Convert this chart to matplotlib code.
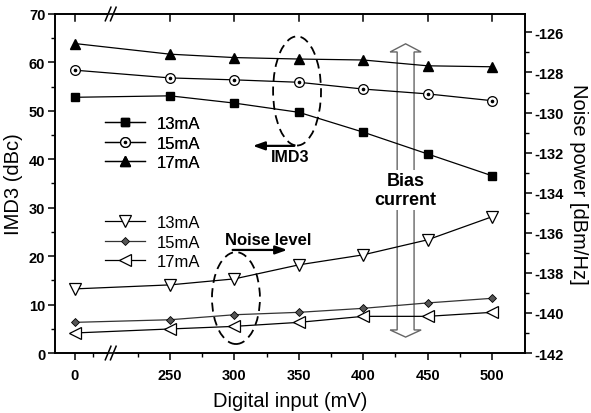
import matplotlib
matplotlib.use("Agg")
import matplotlib.pyplot as plt
import numpy as np
from matplotlib.patches import Ellipse, Polygon
from matplotlib.ticker import FixedLocator, MultipleLocator

plt.rcParams['font.family'] = ['Liberation Sans', 'DejaVu Sans']
plt.rcParams['axes.unicode_minus'] = False

# Données
digital_input = [0, 250, 300, 350, 400, 450, 500]
tick_labels = ['0', '250', '300', '350', '400', '450', '500']

imd3_13 = [52.8, 53.1, 51.6, 49.7, 45.6, 41.1, 36.6]
imd3_15 = [58.4, 56.8, 56.4, 55.9, 54.5, 53.5, 52.1]
imd3_17 = [63.9, 61.7, 61.0, 60.7, 60.5, 59.3, 59.1]

noise_13 = [-138.8, -138.6, -138.3, -137.6, -137.1, -136.35, -135.2]
noise_15 = [-140.47, -140.34, -140.09, -139.97, -139.77, -139.5, -139.27]
noise_17 = [-141.0, -140.8, -140.67, -140.47, -140.17, -140.17, -139.97]

labels = ['13mA', '15mA', '17mA']

# axe cassé : le point 0 est placé juste avant 250
ZERO_POS = 176
x = np.array(digital_input, dtype=float)
xpos = np.where(x == 0, ZERO_POS, x)

fig = plt.figure(figsize=(5.91, 4.14), dpi=100)
ax = fig.add_axes([0.0931, 0.1449, 0.7952, 0.8189])
ax2 = ax.twinx()

lw = 0.9
h13, = ax.plot(xpos, imd3_13, '-', color='black', lw=lw, marker='s', ms=5.5,
               mfc='black', mec='black')
h15, = ax.plot(xpos, imd3_15, '-', color='black', lw=lw, marker='o', ms=7,
               mfc='white', mec='black', mew=0.9)
d15, = ax.plot(xpos, imd3_15, ls='none', marker='o', ms=1.6, color='black')
h17, = ax.plot(xpos, imd3_17, '-', color='black', lw=lw, marker='^', ms=7.5,
               mfc='black', mec='black')

n13, = ax2.plot(xpos, noise_13, '-', color='black', lw=lw, marker='v', ms=8,
                mfc='white', mec='black', mew=0.9)
n15, = ax2.plot(xpos, noise_15, '-', color='#333333', lw=lw, marker='D', ms=4.5,
                mfc='#555555', mec='black', mew=0.6)
n17, = ax2.plot(xpos, noise_17, '-', color='black', lw=lw, marker='<', ms=8,
                mfc='white', mec='black', mew=0.9)

ax.set_xlim(160.7, 525.6)
ax.set_ylim(0, 70)
ax2.set_ylim(-142, -125.08)

tick_font = dict(family=['Liberation Sans', 'DejaVu Sans'], weight='bold', size=10.5)
ax.xaxis.set_major_locator(FixedLocator(xpos))
ax.set_xticklabels(tick_labels, **tick_font)
ax.xaxis.set_minor_locator(FixedLocator([190, 225, 275, 325, 375, 425, 475]))
ax.yaxis.set_major_locator(MultipleLocator(10))
ax.yaxis.set_minor_locator(MultipleLocator(5))
for lab in ax.get_yticklabels():
    lab.set_fontproperties(matplotlib.font_manager.FontProperties(**tick_font))
ax2.yaxis.set_major_locator(MultipleLocator(2))
ax2.yaxis.set_minor_locator(MultipleLocator(1))
ax2.set_yticks(np.arange(-142, -125, 2))
ax2.set_yticklabels([str(v) for v in range(-142, -125, 2)], **tick_font)

ax.tick_params(axis='x', which='major', direction='out', length=5, width=1.1, pad=6)
ax.tick_params(axis='x', which='minor', direction='out', length=3, width=1)
ax.tick_params(axis='y', which='major', direction='out', length=5, width=1.1, pad=2)
ax.tick_params(axis='y', which='minor', direction='out', length=3, width=1)
ax2.tick_params(axis='y', which='major', direction='out', length=5, width=1.1, pad=2)
ax2.tick_params(axis='y', which='minor', direction='out', length=3, width=1)
for a in (ax, ax2):
    for s in a.spines.values():
        s.set_linewidth(1.2)

# ticks du haut vers l'intérieur
for xp in xpos:
    ax.plot([xp, xp], [70, 68.6], color='black', lw=1.1, clip_on=False)

ax.set_xlabel('Digital input (mV)', fontsize=14.5, labelpad=6)
ax.set_ylabel('IMD3 (dBc)', fontsize=14.5, labelpad=4)
ax2.set_ylabel('Noise power [dBm/Hz]', fontsize=14.5, rotation=270, labelpad=17)

# marques de coupure //
for yb in (0, 1):
    ax.add_patch(plt.Rectangle((0.112, yb - 0.006), 0.014, 0.012, transform=ax.transAxes,
                               color='white', clip_on=False, zorder=5))
    for xb in (0.113, 0.124):
        ax.plot([xb - 0.006, xb + 0.006], [yb - 0.02, yb + 0.02], color='black',
                lw=1.1, transform=ax.transAxes, clip_on=False, zorder=6)

# légendes
leg1 = ax.legend([h13, (h15, d15), h17], labels, loc='center left',
                 bbox_to_anchor=(0.106, 0.619), frameon=False, fontsize=12,
                 handlelength=2.4, handletextpad=0.7, labelspacing=0.28,
                 borderpad=0, borderaxespad=0)
ax.add_artist(leg1)
ax2.legend([n13, n15, n17], labels, loc='center left',
           bbox_to_anchor=(0.106, 0.327), frameon=False, fontsize=12,
           handlelength=2.4, handletextpad=0.7, labelspacing=0.28,
           borderpad=0, borderaxespad=0)

# ellipses pointillées
ax.add_patch(Ellipse((0.515, 0.773), 0.102, 0.322, transform=ax.transAxes,
                     fill=False, ls=(0, (5, 3)), lw=1.3, color='black'))
ax.add_patch(Ellipse((0.385, 0.162), 0.102, 0.271, transform=ax.transAxes,
                     fill=False, ls=(0, (5, 3)), lw=1.3, color='black'))

# annotations
ax.annotate('', xy=(0.415, 0.611), xytext=(0.515, 0.611), xycoords='axes fraction',
            arrowprops=dict(arrowstyle='-|>,head_length=0.7,head_width=0.25',
                            color='black', lw=1.6))
ax.text(0.50, 0.581, 'IMD3', transform=ax.transAxes, ha='center', va='center',
        fontsize=11.5, weight='bold')
ax2.annotate('', xy=(0.50, 0.304), xytext=(0.372, 0.304), xycoords='axes fraction',
             arrowprops=dict(arrowstyle='-|>,head_length=0.7,head_width=0.25',
                             color='black', lw=1.6))
ax2.text(0.453, 0.336, 'Noise level', transform=ax2.transAxes, ha='center',
         va='center', fontsize=12, weight='bold')

# flèche creuse double "Bias current"
cx, sw, hw = 0.746, 0.018, 0.033
top, topb, bot, botb = 0.912, 0.888, 0.047, 0.068
arrow = Polygon([(cx, top), (cx + hw, topb), (cx + sw, topb), (cx + sw, botb),
                 (cx + hw, botb), (cx, bot), (cx - hw, botb), (cx - sw, botb),
                 (cx - sw, topb), (cx - hw, topb)], closed=True,
                transform=ax.transAxes, fill=False, ec='#666666', lw=1.0, zorder=1)
ax.add_patch(arrow)
ax2.text(cx, 0.481, 'Bias\ncurrent', transform=ax.transAxes, ha='center', va='center',
         fontsize=13, weight='bold', family=['Liberation Sans Narrow', 'Liberation Sans'],
         linespacing=1.15, bbox=dict(fc='white', ec='none', pad=1.5), zorder=1.5)

fig.savefig('out.png', dpi=100)
